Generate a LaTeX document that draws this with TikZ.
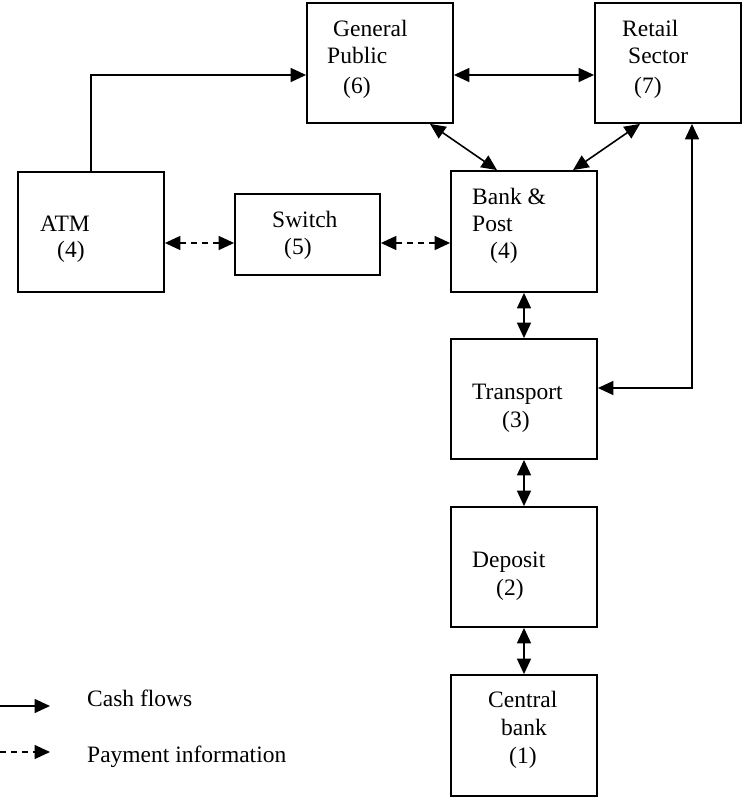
\documentclass[tikz,border=0pt]{standalone}
\usepackage{fontspec}
\setmainfont{Liberation Serif}
\usetikzlibrary{arrows.meta}
\begin{document}
\begin{tikzpicture}[x=1pt,y=-1pt,
  >={Triangle[length=15.5pt,width=14pt]},
  box/.style={draw,line width=1.8pt,inner sep=0pt,minimum width=146pt,minimum height=120pt},
  lbl/.style={anchor=base west,inner sep=0pt,font=\fontsize{23.5}{27}\selectfont},
  cash/.style={line width=1.6pt,->},
  both/.style={line width=1.6pt,<->},
  pay/.style={line width=1.6pt,dash pattern=on 6pt off 5pt,<->},
  payleg/.style={line width=1.6pt,dash pattern=on 6pt off 5pt,->}]
\useasboundingbox (0,0) rectangle (742,798);

% boxes
\node[box] (gp)  at (380,63) {};
\node[box] (rs)  at (668,63) {};
\node[box] (atm) at (91,232) {};
\node[box,minimum width=145pt,minimum height=81pt] (sw) at (307.5,234.5) {};
\node[box,minimum height=121pt] (bp) at (524,231.5) {};
\node[box] (tr)  at (524,399) {};
\node[box] (dep) at (524,567) {};
\node[box,minimum height=121pt] (cb) at (524,735.5) {};

% labels
\node[lbl] (gp1) at (333,36) {General};
\node[lbl] (gp2) at (327,63) {Public};
\node[lbl] (gp3) at (343,93) {(6)};
\node[lbl] (rs1) at (622,36) {Retail};
\node[lbl] (rs2) at (628,63) {Sector};
\node[lbl] (rs3) at (634,93) {(7)};
\node[lbl] (atm1) at (40,231) {ATM};
\node[lbl] (atm2) at (57,257) {(4)};
\node[lbl] (sw1) at (272,227) {Switch};
\node[lbl] (sw2) at (284,254) {(5)};
\node[lbl] (bp1) at (472,204) {Bank \&};
\node[lbl] (bp2) at (472,231) {Post};
\node[lbl] (bp3) at (490,258) {(4)};
\node[lbl] (tr1) at (472,399) {Transport};
\node[lbl] (tr2) at (502,427) {(3)};
\node[lbl] (dep1) at (472,567) {Deposit};
\node[lbl] (dep2) at (496,595) {(2)};
\node[lbl] (cb1) at (488,707) {Central};
\node[lbl] (cb2) at (501,735) {bank};
\node[lbl] (cb3) at (509,763) {(1)};

% connectors
\draw[cash] (atm.north) |- ([yshift=-12pt]gp.west);
\draw[both] ([yshift=-12pt]gp.east) -- ([yshift=-12pt]rs.west);
\draw[both] ([xshift=50pt]gp.south) -- ([xshift=-27pt]bp.north);
\draw[both] ([xshift=-28pt]rs.south) -- ([xshift=49pt]bp.north);
\draw[both] ([xshift=24pt]rs.south) |- ([yshift=11pt]tr.east);
\draw[pay] ([yshift=-11pt]atm.east) -- ([yshift=-11pt]atm.east -| sw.west);
\draw[pay] ([yshift=-8.5pt]sw.east) -- ([yshift=-8.5pt]sw.east -| bp.west);
\draw[both] (bp.south) -- (tr.north);
\draw[both] (tr.south) -- (dep.north);
\draw[both] (dep.south) -- (cb.north);

% legend
\coordinate (la1) at (0,706);
\coordinate (lb1) at (50,706);
\coordinate (la2) at (0,752);
\coordinate (lb2) at (50,752);
\draw[cash] (la1) -- (lb1);
\draw[payleg] (la2) -- (lb2);
\node[lbl] (leg1) at (87,706) {Cash flows};
\node[lbl] (leg2) at (87,762) {Payment information};
\end{tikzpicture}
\end{document}
